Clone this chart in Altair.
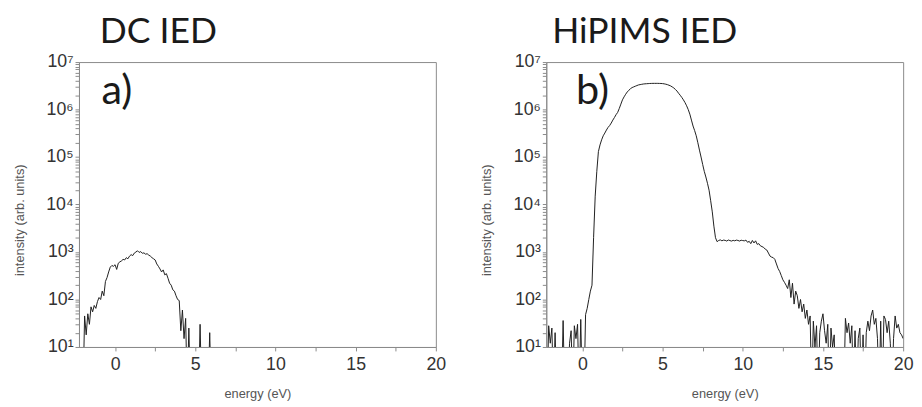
import altair as alt
import pandas as pd

# ---------------- data ----------------
dc_start, dc_step = -2.0, 0.1
dc_intensity = [
    1, 45, 18, 50, 30, 70, 55, 75, 65, 90,
    110, 100, 150, 120, 240, 290, 380, 480, 520, 500,
    540, 430, 580, 620, 650, 700, 680, 760, 720, 820,
    880, 840, 950, 1000, 1060, 980, 1020, 940, 960, 900,
    920, 860, 820, 760, 720, 680, 560, 500, 440, 380,
    420, 330, 350, 280, 220, 200, 160, 150, 120, 100,
    95, 22, 60, 15, 40, 1, 25, 1, 1, 1,
    1, 1, 1, 30, 1, 1, 1, 1, 1, 20,
    1,
]
dc_energy = [round(dc_start + dc_step * i, 2) for i in range(len(dc_intensity))]

hi_start, hi_step = -2.2, 0.1
hi_intensity = [
    1, 28, 12, 25, 1, 20, 1, 1, 1, 1,
    36, 1, 1, 1, 12, 22, 1, 28, 15, 30,
    1, 38, 1, 1, 48, 65, 100, 150, 200, 2000,
    15000, 50000, 130000, 180000, 230000, 280000, 320000, 370000, 420000, 460000,
    520000, 600000, 680000, 780000, 870000, 1050000, 1300000, 1600000, 1850000, 2100000,
    2350000, 2550000, 2750000, 2900000, 3000000, 3100000, 3200000, 3300000, 3350000, 3400000,
    3450000, 3480000, 3500000, 3520000, 3540000, 3550000, 3560000, 3560000, 3560000, 3560000,
    3550000, 3540000, 3520000, 3480000, 3420000, 3350000, 3250000, 3150000, 3000000, 2850000,
    2650000, 2450000, 2200000, 2000000, 1800000, 1600000, 1400000, 1200000, 1000000, 800000,
    600000, 450000, 360000, 280000, 200000, 140000, 100000, 70000, 50000, 38000,
    28000, 20000, 12000, 7000, 3500, 2000, 1650, 1750, 1800, 1720,
    1780, 1760, 1700, 1790, 1740, 1700, 1760, 1720, 1780, 1750,
    1700, 1770, 1740, 1720, 1780, 1600, 1680, 1500, 1750, 1550,
    1720, 1450, 1500, 1350, 1300, 1250, 1150, 1100, 950, 820,
    780, 760, 700, 560, 450, 390, 320, 260, 230, 200,
    170, 260, 110, 220, 80, 150, 120, 65, 100, 55,
    80, 40, 60, 30, 45, 1, 35, 10, 28, 1,
    20, 35, 50, 22, 12, 30, 1, 25, 10, 18,
    1, 1, 1, 1, 1, 1, 40, 20, 32, 12,
    28, 1, 22, 1, 15, 25, 1, 18, 1, 20,
    35, 22, 45, 60, 30, 40, 15, 1, 35, 1,
    45, 38, 20, 35, 12, 1, 15, 45, 25, 30,
    20, 18, 15,
]
hi_energy = [round(hi_start + hi_step * i, 2) for i in range(len(hi_intensity))]

titles = ["DC IED", "HiPIMS IED"]
panel_labels = ["a)", "b)"]
label_energy = [-0.85, -0.4]
label_intensity = [1.3e6, 1.3e6]

x_tick_values = [0, 2.5, 5, 7.5, 10, 12.5, 15, 17.5, 20]
y_tick_values = sorted(set([m * 10 ** d for d in range(1, 7) for m in range(1, 10)] + [10 ** 7]))

sup_expr = (
    "abs(log(datum.value)/LN10 - round(log(datum.value)/LN10)) < 0.001 ? "
    "'10' + ['\u2070','\u00b9','\u00b2','\u00b3','\u2074','\u2075','\u2076','\u2077'][round(log(datum.value)/LN10)] : ''"
)


def panel(energy, intensity, title, title_dx, label, lx, ly):
    df = pd.DataFrame({"energy": energy, "intensity": intensity})
    x = alt.X(
        "energy:Q",
        scale=alt.Scale(domain=[-2.25, 20], nice=False, zero=False),
        axis=alt.Axis(
            values=x_tick_values,
            labelExpr="datum.value % 5 == 0 ? datum.label : ''",
            labelFlush=False,
            title="energy (eV)",
            tickSize=4,
            labelPadding=5,
            titlePadding=14,
        ),
    )
    y = alt.Y(
        "intensity:Q",
        scale=alt.Scale(type="log", domain=[10, 1e7], nice=False),
        axis=alt.Axis(
            values=y_tick_values,
            labelExpr=sup_expr,
            title="intensity (arb. units)",
            tickSize=4,
            labelPadding=2,
            titlePadding=20,
            titleY=160,
        ),
    )
    line = alt.Chart(df).mark_line(clip=True, color="#1e1e1e", strokeWidth=1).encode(x=x, y=y)
    lab_df = pd.DataFrame({"energy": [lx], "intensity": [ly], "t": [label]})
    lab = alt.Chart(lab_df).mark_text(
        align="left", baseline="alphabetic", fontSize=42, font="Lato", color="#1a1a1a"
    ).encode(x="energy:Q", y="intensity:Q", text="t:N")
    return alt.layer(line, lab).properties(
        width=362,
        height=289,
        title=alt.TitleParams(
            title, anchor="start", frame="group", dx=title_dx, fontSize=36,
            font="Lato", fontWeight="normal", color="#1a1a1a", offset=2,
        ),
    )


left = panel(dc_energy, dc_intensity, titles[0], 21, panel_labels[0], label_energy[0], label_intensity[0])
right = panel(hi_energy, hi_intensity, titles[1], 6, panel_labels[1], label_energy[1], label_intensity[1])

chart = alt.hconcat(left, right, spacing=33).properties(
    padding={"left": 4, "top": 3, "right": 0, "bottom": 0}
).configure_view(stroke="#8a8a8a", strokeWidth=1).configure_axis(
    grid=False,
    domainColor="#8a8a8a",
    tickColor="#8a8a8a",
    labelColor="#333333",
    labelFont="Liberation Sans",
    labelFontSize=18,
    titleFont="Liberation Sans",
    titleFontSize=13,
    titleFontWeight="normal",
    titleColor="#555555",
)

chart.save("out.html", embed_options={"renderer": "svg", "actions": False})
